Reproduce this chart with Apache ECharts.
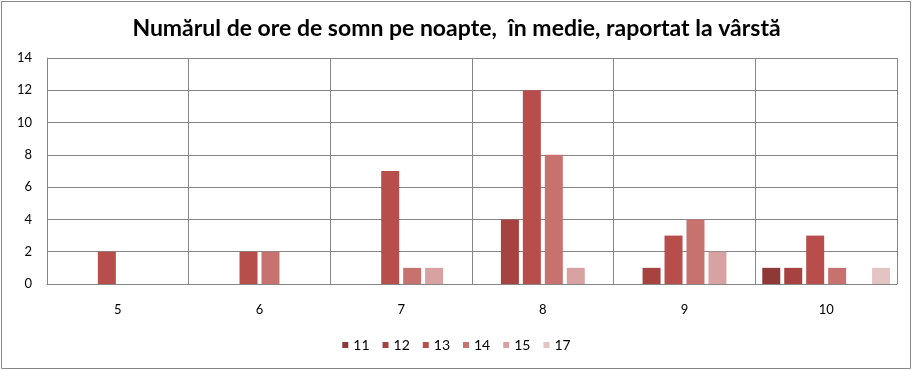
<!DOCTYPE html>
<html><head><meta charset="utf-8">
<script src="https://cdn.jsdelivr.net/npm/echarts@6/dist/echarts.min.js"></script>
<style>html,body{margin:0;padding:0;background:#fff}#c{width:913px;height:371px}</style>
</head><body><div id="c"></div>
<script>
const categories = ['5','6','7','8','9','10'];
const seriesNames = ['11','12','13','14','15','17'];
const s11 = [0,0,0,0,0,1];
const s12 = [0,0,0,4,1,1];
const s13 = [2,2,7,12,3,3];
const s14 = [0,2,1,8,4,1];
const s15 = [0,0,1,1,2,0];
const s17 = [0,0,0,0,0,1];
const yTicks = [0,2,4,6,8,10,12,14];
const colors = ['#8E3837','#A64341','#B84E4B','#C87270','#D7A2A1','#E4C3C3'];
const values = [s11,s12,s13,s14,s15,s17];

const chart = echarts.init(document.getElementById('c'), null, {renderer:'canvas'});
chart.setOption({
  animation:false,
  title:{text:'Numărul de ore de somn pe noapte,  în medie, raportat la vârstă',left:'center',top:12,
    textStyle:{fontFamily:'Lato',fontWeight:'bold',fontSize:23,color:'#000'}},
  graphic:[{type:'rect',shape:{x:1.5,y:1.5,width:909,height:367},style:{fill:'none',stroke:'#868686',lineWidth:1}},
    {type:'line',shape:{x1:897.5,y1:58,x2:897.5,y2:284},style:{stroke:'#868686',lineWidth:1}}],
  legend:{bottom:14,left:'center',itemWidth:6,itemHeight:6,itemGap:13,icon:'rect',
    textStyle:{fontFamily:'Lato',fontSize:14,color:'#000'},data:seriesNames},
  grid:{left:47,right:16,top:58,bottom:87,containLabel:false},
  xAxis:{type:'category',data:categories,
    axisLine:{show:true,lineStyle:{color:'#868686',width:1}},
    axisTick:{show:false},
    splitLine:{show:true,lineStyle:{color:'#868686',width:1}},
    axisLabel:{margin:19,fontFamily:'Lato',fontSize:13,color:'#000'}},
  yAxis:{type:'value',min:0,max:14,interval:2,
    axisLine:{show:true,lineStyle:{color:'#868686',width:1}},
    axisTick:{show:false},
    splitLine:{show:true,lineStyle:{color:'#868686',width:1}},
    axisLabel:{margin:15,fontFamily:'Lato',fontSize:13,color:'#000',
      formatter:v=>yTicks.includes(v)?String(v):''}},
  series: seriesNames.map((n,i)=>({name:n,type:'bar',data:values[i],barWidth:18,barGap:'22%',barCategoryGap:'10%',
    itemStyle:{color:colors[i]}}))
});
</script></body></html>
